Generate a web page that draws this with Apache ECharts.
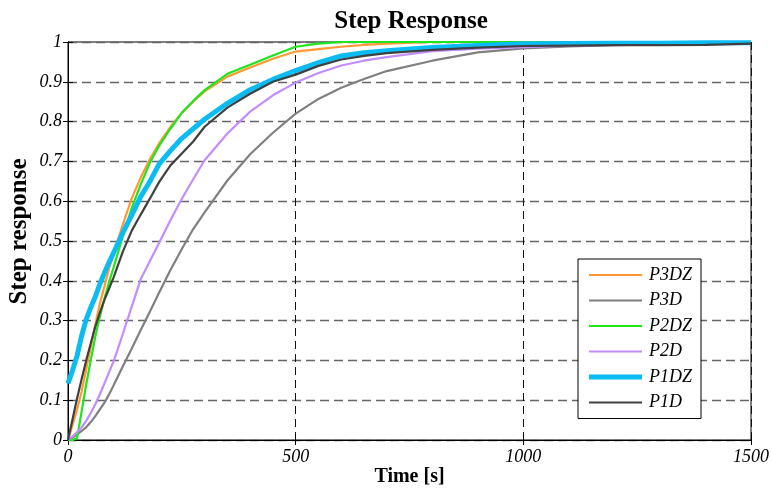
<!DOCTYPE html>
<html>
<head>
<meta charset="utf-8">
<script src="https://cdn.jsdelivr.net/npm/echarts@6/dist/echarts.min.js"></script>
<style>
html,body{margin:0;padding:0;background:#fff;}
#chart{width:772px;height:496px;}
</style>
</head>
<body>
<div id="chart"></div>
<script>
var timeS = [0,10,20,30,40,50,60,70,80,90,100,120,140,160,180,200,225,250,275,300,350,400,450,500,550,600,650,700,800,900,1000,1100,1200,1300,1400,1500];

var P3DZ = [0,0.038,0.077,0.122,0.178,0.233,0.29,0.343,0.386,0.43,0.466,0.54,0.607,0.66,0.706,0.745,0.787,0.822,0.85,0.876,0.913,0.936,0.958,0.976,0.982,0.988,0.993,0.996,1,1,1,1,1,1,1,1];
var P3D  = [0,0.006,0.014,0.023,0.032,0.045,0.06,0.077,0.094,0.114,0.137,0.184,0.23,0.277,0.323,0.37,0.427,0.48,0.53,0.572,0.652,0.718,0.772,0.82,0.857,0.885,0.907,0.927,0.953,0.974,0.984,0.989,0.992,0.994,0.995,0.996];
var P2DZ = [0,0,0.005,0.072,0.14,0.2,0.26,0.31,0.355,0.396,0.433,0.51,0.583,0.643,0.697,0.739,0.782,0.822,0.852,0.879,0.92,0.943,0.966,0.988,0.996,1,1,1,1,1,1,1,1,1,1,1];
var P2D  = [0,0.009,0.02,0.032,0.048,0.068,0.09,0.115,0.142,0.17,0.197,0.265,0.335,0.405,0.45,0.495,0.552,0.606,0.655,0.703,0.77,0.825,0.866,0.898,0.922,0.941,0.953,0.962,0.977,0.983,0.987,0.991,0.993,0.994,0.995,0.996];
var P1DZ = [0.142,0.175,0.212,0.262,0.303,0.333,0.36,0.392,0.42,0.446,0.47,0.52,0.565,0.612,0.65,0.693,0.727,0.758,0.782,0.806,0.846,0.88,0.906,0.928,0.948,0.965,0.973,0.978,0.986,0.991,0.995,0.996,0.997,0.997,0.998,0.998];
var P1D  = [0,0.052,0.105,0.153,0.2,0.243,0.285,0.32,0.352,0.38,0.408,0.472,0.526,0.567,0.607,0.648,0.69,0.72,0.75,0.787,0.835,0.87,0.9,0.918,0.94,0.956,0.965,0.972,0.98,0.986,0.99,0.991,0.992,0.992,0.993,0.996];

var seriesNames = ['P3DZ','P3D','P2DZ','P2D','P1DZ','P1D'];
var seriesValues = [P3DZ, P3D, P2DZ, P2D, P1DZ, P1D];
var seriesColors = ['#ff9933','#808080','#1ee61e','#c38dff','#0bbcf4','#404040'];
var seriesWidths = [2.2,2.2,2.2,2.2,5,2.2];

var xTicks = [0,500,1000,1500];

var serif = '"Liberation Serif","Times New Roman",serif';

function pairs(vals){
  var out = [];
  for (var i = 0; i < timeS.length; i++) out.push([timeS[i], vals[i]]);
  return out;
}

var series = seriesNames.map(function(n, i){
  return {
    name: n, type: 'line', xAxisIndex: 0, yAxisIndex: 0,
    data: pairs(seriesValues[i]),
    symbol: 'none', showSymbol: false,
    smooth: false,
    lineStyle: {color: seriesColors[i], width: seriesWidths[i]},
    itemStyle: {color: seriesColors[i]},
    z: 2 + i
  };
});

var legendData = seriesNames.map(function(n, i){
  return {
    name: n,
    icon: 'path://M0,0H53V' + seriesWidths[i] + 'H0Z',
    itemStyle: {color: seriesColors[i], borderWidth: 0}
  };
});

var chart = echarts.init(document.getElementById('chart'), null, {renderer: 'canvas'});
chart.setOption({
  animation: false,
  backgroundColor: '#fff',
  title: {
    text: 'Step Response',
    left: 406, top: 4, textAlign: 'center',
    textStyle: {fontFamily: serif, fontWeight: 'bold', fontSize: 25, color: '#000'}
  },
  grid: {left: 68, right: 21, top: 42, bottom: 56, show: true, borderColor: '#000', borderWidth: 1, backgroundColor: '#fff', containLabel: false, outerBoundsMode: 'none'},
  legend: {
    orient: 'vertical', left: 578, top: 259,
    padding: [7, 9, 7, 11],
    itemWidth: 53, itemHeight: 14, itemGap: 7.5,
    symbolKeepAspect: true,
    backgroundColor: '#fff', borderColor: '#000', borderWidth: 1,
    textStyle: {fontFamily: serif, fontStyle: 'italic', fontSize: 18, color: '#000', lineHeight: 18, padding: [0,0,0,2]},
    data: legendData
  },
  xAxis: [{
    type: 'value', min: 0, max: 1500, interval: 500, position: 'bottom',
    name: 'Time [s]', nameLocation: 'middle', nameGap: 27, nameMoveOverlap: false,
    nameTextStyle: {fontFamily: serif, fontWeight: 'bold', fontSize: 20, color: '#000'},
    axisLine: {show: true, lineStyle: {color: '#000', width: 1}},
    axisTick: {show: true, inside: true, length: 5, lineStyle: {color: '#000'}},
    axisLabel: {fontFamily: serif, fontStyle: 'italic', fontSize: 18, color: '#000', margin: 8,
      formatter: function(v){ return xTicks.indexOf(v) >= 0 ? String(v) : ''; }},
    splitLine: {show: true, lineStyle: {color: '#111', type: [8,5], width: 1}}
  },{
    type: 'value', min: 0, max: 1500, interval: 500, position: 'top',
    axisLine: {show: true, lineStyle: {color: '#000', width: 1}},
    axisTick: {show: true, inside: true, length: 5, lineStyle: {color: '#000'}},
    axisLabel: {show: false}, splitLine: {show: false}
  }],
  yAxis: [{
    type: 'value', min: 0, max: 1, interval: 0.1, position: 'left',
    name: 'Step response', nameLocation: 'middle', nameGap: 36, nameRotate: 90, nameMoveOverlap: false,
    nameTextStyle: {fontFamily: serif, fontWeight: 'bold', fontSize: 25, color: '#000', padding: [0,0,0,19]},
    axisLine: {show: true, lineStyle: {color: '#000', width: 1}},
    axisTick: {show: true, inside: true, length: 5, lineStyle: {color: '#000'}},
    axisLabel: {fontFamily: serif, fontStyle: 'italic', fontSize: 18, color: '#000', margin: 6},
    splitLine: {show: true, lineStyle: {color: '#666', type: [9,5], width: 1.4}}
  },{
    type: 'value', min: 0, max: 1, interval: 0.1, position: 'right',
    axisLine: {show: true, lineStyle: {color: '#000', width: 1}},
    axisTick: {show: true, inside: true, length: 5, lineStyle: {color: '#000'}},
    axisLabel: {show: false}, splitLine: {show: false}
  }],
  series: series
});
</script>
</body>
</html>
